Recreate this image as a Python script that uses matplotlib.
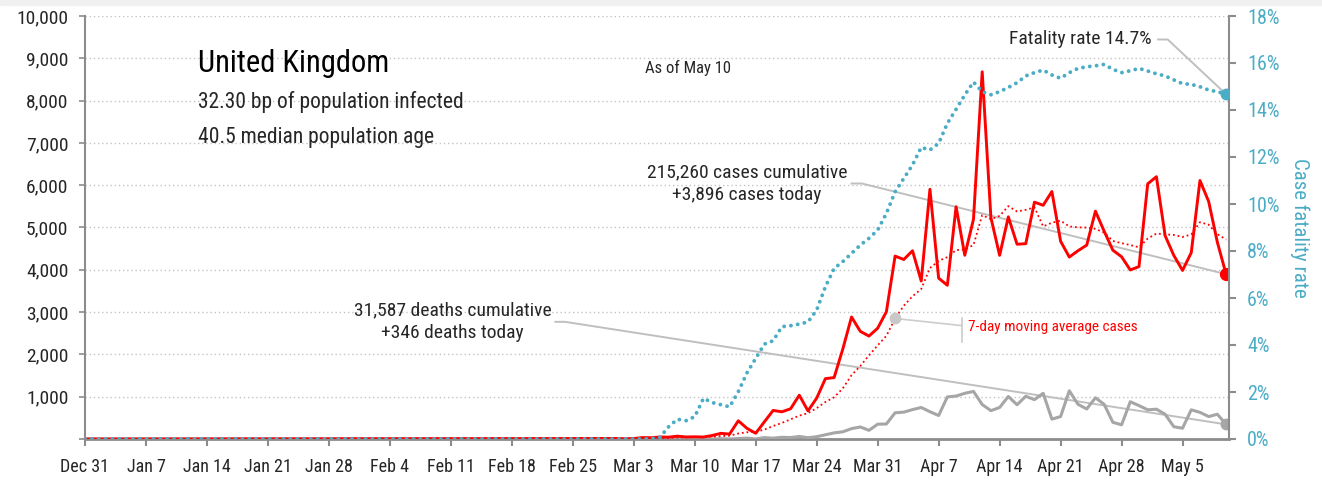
import numpy as np
import pandas as pd
import matplotlib
matplotlib.use("Agg")
import matplotlib.pyplot as plt
from matplotlib import font_manager
from matplotlib.patches import Rectangle

# ── data (Mar 1 – May 10, 2020; a single zero point on Dec 31 starts every series) ──
START = "2019-12-31"
daily_dates = pd.date_range("2020-03-01", "2020-05-10", freq="D")

cases_daily = [
    12, 4, 11, 34, 30, 48, 43, 67, 48, 52,
    46, 83, 134, 117, 430, 251, 135, 407, 676, 643,
    714, 1035, 665, 967, 1427, 1452, 2129, 2885, 2546, 2433, 2619,
    3009, 4324, 4244, 4450, 3735, 5903, 3802, 3634, 5491, 4344,
    5195, 8681, 5233, 4342, 5252, 4605, 4617, 5599, 5525, 5850,
    4676, 4301, 4451, 4583, 5386, 4913, 4463, 4309, 3996, 4076,
    6032, 6201, 4806, 4339, 3985, 4406, 6111, 5614, 4649, 3896,
]
cases_ma7 = [
    2, 2, 4, 9, 13, 20, 26, 34, 40, 46,
    48, 55, 68, 78, 130, 159, 171, 222, 307, 380,
    465, 552, 611, 730, 875, 986, 1198, 1509, 1724, 1977, 2213,
    2439, 2849, 3151, 3375, 3545, 4041, 4210, 4299, 4466, 4480,
    4586, 5293, 5197, 5274, 5505, 5379, 5418, 5476, 5025, 5113,
    5161, 5025, 5003, 4998, 4967, 4880, 4682, 4629, 4586, 4532,
    4739, 4856, 4840, 4823, 4776, 4835, 5126, 5066, 4844, 4714,
]
deaths_daily = [
    0, 0, 0, 0, 1, 0, 1, 0, 1, 1,
    2, 1, 8, 1, 11, 21, 1, 33, 19, 41,
    34, 60, 30, 55, 100, 145, 170, 245, 285, 205, 350,
    355, 620, 635, 695, 745, 645, 555, 995, 1015, 1080,
    1125, 815, 670, 745, 1005, 810, 1010, 930, 1080, 470,
    530, 1140, 820, 710, 975, 820, 395, 335, 880, 790,
    690, 705, 585, 290, 255, 690, 630, 530, 585, 346,
]
fatality_pct = [
    0, 0, 0, 0, 0.01, 0.07, 0.52, 0.84, 0.78, 0.95,
    1.73, 1.55, 1.46, 1.37, 2.01, 2.82, 3.43, 4.04, 4.18, 4.78,
    4.82, 4.89, 4.98, 5.49, 6.48, 7.26, 7.55, 7.90, 8.25, 8.54, 8.89,
    9.60, 10.52, 11.09, 11.66, 12.41, 12.30, 12.58, 13.43, 14.03, 14.64,
    15.19, 14.78, 14.65, 14.78, 14.96, 15.16, 15.45, 15.59, 15.70, 15.49,
    15.35, 15.59, 15.77, 15.84, 15.88, 15.94, 15.73, 15.59, 15.67, 15.77,
    15.66, 15.54, 15.45, 15.28, 15.12, 15.09, 14.99, 14.85, 14.78, 14.67,
]

COUNTRY = "United Kingdom"
SUBTITLE = ["32.30 bp of population infected", "40.5 median population age"]
AS_OF = "As of May 10"
CASES_NOTE = "215,260 cases cumulative\n+3,896 cases today"
DEATHS_NOTE = "31,587 deaths cumulative\n+346 deaths today"
CFR_NOTE = "Fatality rate 14.7%"
MA_NOTE = "7-day moving average cases"
MA_NOTE_DATE = "2020-04-02"

RED = "#ff0000"
TEAL = "#4bacc6"
GREY = "#a6a6a6"
LEADER = "#bfbfbf"
AXIS = "#8c8c8c"
TEXT = "#262626"

# ── font: pick a narrow face if one is installed ─────────────────────────────
names = {f.name for f in font_manager.fontManager.ttflist}
stretch = "normal"
for cand in ["Liberation Sans Narrow", "Roboto Condensed", "Open Sans Condensed"]:
    if cand in names:
        FONT = cand
        break
else:
    FONT = "DejaVu Sans"
    stretch = "condensed"
plt.rcParams["font.family"] = [FONT, "DejaVu Sans"]
plt.rcParams["font.stretch"] = stretch

# ── series with the Dec 31 start point ──────────────────────────────────────
dates = pd.DatetimeIndex([pd.Timestamp(START)]).append(daily_dates)
cases = np.array([0] + cases_daily)
ma7 = np.array([0] + cases_ma7)
deaths = np.array([0] + deaths_daily)
cfr = np.array([0] + fatality_pct) / 100

fig = plt.figure(figsize=(13.22, 4.80), dpi=100)
fig.patches.append(Rectangle((0, 1 - 5 / 480), 1, 5 / 480, transform=fig.transFigure,
                             color="#f0f0f0", zorder=0))
ax = fig.add_axes([85 / 1322, 1 - 439 / 480, (1229 - 85) / 1322, (439 - 16) / 480])
ax2 = ax.twinx()

# left axis: cases / deaths
ax.plot(dates, deaths, color=GREY, lw=2.2, zorder=3)
ax.plot(dates, ma7, color=RED, lw=1.3, ls=(0, (1, 1.6)), zorder=4)
ax.plot(dates, cases, color=RED, lw=2.1, zorder=5)
ax.plot(dates[-1], cases[-1], "o", color=RED, ms=8.5, zorder=6)
ax.plot(dates[-1], deaths[-1], "o", color=GREY, ms=7.5, zorder=6)

ma_idx = dates.get_loc(pd.Timestamp(MA_NOTE_DATE))
ax.plot(dates[ma_idx], ma7[ma_idx], "o", color="#c8c8c8", ms=7.5, zorder=6)

# right axis: case fatality rate
ax2.plot(dates, cfr, color=TEAL, lw=2.8, ls=(0, (0.01, 1.75)),
         dash_capstyle="round", zorder=3)
ax2.plot(dates[-1], cfr[-1], "o", color=TEAL, ms=7.5, zorder=4)

# axes styling
ax.set_xlim(pd.Timestamp(START), pd.Timestamp("2020-05-10 08:00"))
ax.set_ylim(0, 10000)
ax2.set_ylim(0, 0.18)

ticks = pd.date_range(START, "2020-05-05", freq="7D")
ax.set_xticks(ticks)
ax.set_xticklabels([f"{d:%b} {d.day}" for d in ticks])

yt = np.arange(0, 10001, 1000)
ax.set_yticks(yt)
ax.set_yticklabels(["" if v == 0 else f"{v:,}" for v in yt])
pt = np.arange(0, 0.181, 0.02)
ax2.set_yticks(pt)
ax2.set_yticklabels([f"{v * 100:.0f}%" for v in pt])

ax.yaxis.grid(True, color="#c4c4c4", lw=1.0, ls=(0, (1, 2)))
ax.set_axisbelow(True)

for a in (ax, ax2):
    a.spines["top"].set_visible(False)
ax.spines["right"].set_visible(False)
ax2.spines["left"].set_visible(False)
ax2.spines["bottom"].set_visible(False)
ax.spines["left"].set_color(AXIS)
ax.spines["left"].set_linewidth(1.5)
ax.spines["bottom"].set_color(AXIS)
ax.spines["bottom"].set_linewidth(2.0)
ax2.spines["right"].set_color(AXIS)
ax2.spines["right"].set_linewidth(1.5)

ax.tick_params(axis="x", length=5, width=1.5, color=AXIS, pad=9,
               labelsize=13, labelcolor=TEXT)
ax.tick_params(axis="y", length=4, width=1.2, color=AXIS, pad=8,
               labelsize=14, labelcolor=TEXT)
ax2.tick_params(axis="y", length=5, width=1.5, color=AXIS, pad=8,
                labelsize=14.5, labelcolor=TEAL)

fig.text(1300 / 1322, 1 - 228 / 480, "Case fatality rate", rotation=270,
         ha="center", va="center", color=TEAL, fontsize=15)

# headline text
fig.text(198 / 1322, 1 - 63 / 480, COUNTRY, fontsize=22, color="black",
         ha="left", va="center")
fig.text(198 / 1322, 1 - 102 / 480, SUBTITLE[0], fontsize=15.5, color=TEXT,
         ha="left", va="center")
fig.text(198 / 1322, 1 - 137 / 480, SUBTITLE[1], fontsize=15.5, color=TEXT,
         ha="left", va="center")
fig.text(645 / 1322, 1 - 68 / 480, AS_OF, fontsize=12, color=TEXT,
         ha="left", va="center")

# annotations with leader lines (text placed in data space, lines end on the last point)
t0 = pd.Timestamp(START)
def day(n):
    return t0 + pd.Timedelta(days=n)

ax.text(day(76.0), 6040, CASES_NOTE, fontsize=14, color=TEXT, ha="center",
        va="center", linespacing=1.35, zorder=7)
ax.plot([day(88.0), day(89.2), dates[-1]], [6040, 6040, cases[-1]],
        color=LEADER, lw=1.4, zorder=2)

ax.text(day(42.2), 2770, DEATHS_NOTE, fontsize=14, color=TEXT, ha="center",
        va="center", linespacing=1.35, zorder=7)
ax.plot([day(54.0), day(55.1), dates[-1]], [2770, 2770, deaths[-1]],
        color=LEADER, lw=1.4, zorder=2)

ax2.text(day(122.5), 0.170, CFR_NOTE, fontsize=14, color=TEXT, ha="right",
         va="center", zorder=7)
ax2.plot([day(123.2), day(124.3), dates[-1]], [0.170, 0.170, cfr[-1]],
         color=LEADER, lw=1.4, zorder=2)

ax.plot([dates[ma_idx], day(100.7)], [ma7[ma_idx], 2680], color="#cccccc", lw=1.2, zorder=2)
ax.plot([day(100.7), day(100.7)], [2860, 2300], color="#cccccc", lw=1.2, zorder=2)
ax.text(day(101.4), 2650, MA_NOTE, fontsize=11, color=RED, ha="left", va="center")

fig.savefig("out.png", dpi=100)
